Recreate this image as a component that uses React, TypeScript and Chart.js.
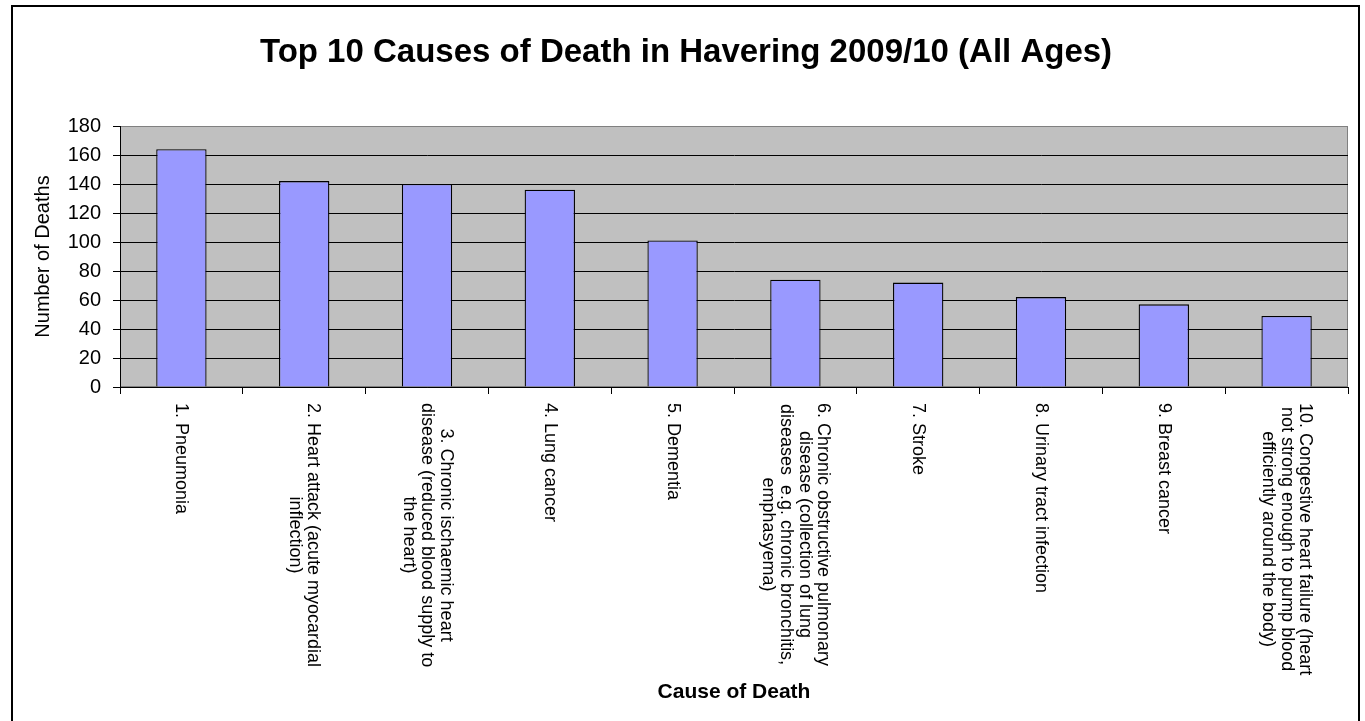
import React, { useEffect, useRef } from "react";
import { Chart, registerables } from "chart.js";

Chart.register(...registerables);

const chartTitle = "Top 10 Causes of Death in Havering 2009/10 (All Ages)";
const yAxisTitle = "Number of Deaths";
const xAxisTitle = "Cause of Death";

const categories: string[][] = [
  ["1. Pneumonia"],
  ["2. Heart attack (acute myocardial", "inflection)"],
  ["3. Chronic ischaemic heart", "disease (reduced blood supply to", "the heart)"],
  ["4. Lung cancer"],
  ["5. Dementia"],
  ["6. Chronic obstructive pulmonary", "disease (collection of lung", "diseases  e.g. chronic bronchitis,", "emphasyema)"],
  ["7. Stroke"],
  ["8. Urinary tract infection"],
  ["9. Breast cancer"],
  ["10. Congestive heart failure (heart", "not strong enough to pump blood", "efficiently around the body)"],
];

const deaths: number[] = [164, 142, 140, 136, 101, 74, 72, 62, 57, 49];

const yMin = 0;
const yMax = 180;
const yStep = 20;

const FONT = '"Liberation Sans", Arial, Helvetica, sans-serif';

const W = 1365;
const H = 721;

const decorPlugin = {
  id: "decor",
  beforeDraw(chart: any) {
    const { ctx, chartArea } = chart;
    const { left, top, right, bottom } = chartArea;
    ctx.save();
    ctx.fillStyle = "#C0C0C0";
    ctx.fillRect(left, top, right - left, bottom - top);
    ctx.strokeStyle = "#808080";
    ctx.lineWidth = 1;
    ctx.strokeRect(left + 0.5, top + 0.5, right - left - 1, bottom - top - 1);
    ctx.restore();
  },
  afterDraw(chart: any) {
    const { ctx, chartArea } = chart;
    const xScale = chart.scales.x;
    ctx.save();
    // outer frame
    ctx.strokeStyle = "#000";
    ctx.lineWidth = 2;
    ctx.strokeRect(12, 6, 1347, 740);

    // main title
    ctx.fillStyle = "#000";
    ctx.font = `bold 33px ${FONT}`;
    ctx.textAlign = "center";
    ctx.textBaseline = "alphabetic";
    ctx.fillText(chartTitle, 686, 62);

    // x axis title
    ctx.font = `bold 21px ${FONT}`;
    ctx.fillText(xAxisTitle, (chartArea.left + chartArea.right) / 2, 698);

    // y axis title
    ctx.save();
    ctx.font = `20px ${FONT}`;
    ctx.translate(43, (chartArea.top + chartArea.bottom) / 2);
    ctx.rotate(-Math.PI / 2);
    ctx.textBaseline = "middle";
    ctx.fillText(yAxisTitle, 0, 0);
    ctx.restore();

    // category labels rotated clockwise
    ctx.font = `18px ${FONT}`;
    const lh = 18.5;
    categories.forEach((lines, i) => {
      const cx = xScale.getPixelForValue(i);
      let maxW = 0;
      lines.forEach((l) => {
        maxW = Math.max(maxW, ctx.measureText(l).width);
      });
      const y0 = chartArea.bottom + 16;
      ctx.save();
      ctx.translate(cx, y0 + maxW / 2);
      ctx.rotate(Math.PI / 2);
      ctx.textAlign = "center";
      ctx.textBaseline = "middle";
      const n = lines.length;
      lines.forEach((l, k) => {
        ctx.fillText(l, 0, (k - (n - 1) / 2) * lh);
      });
      ctx.restore();
    });
    ctx.restore();
  },
};

export default function App() {
  const ref = useRef<HTMLCanvasElement | null>(null);
  useEffect(() => {
    if (!ref.current) return;
    const chart = new Chart(ref.current, {
      type: "bar",
      data: {
        labels: categories.map((c) => c.join(" ")),
        datasets: [
          {
            data: deaths,
            backgroundColor: "#9999FF",
            borderColor: "#000000",
            borderWidth: 1.3,
            barPercentage: 0.41,
            categoryPercentage: 1,
          },
        ],
      },
      options: {
        responsive: false,
        animation: false,
        devicePixelRatio: 1,
        layout: { padding: { left: 0, top: 126, right: W - 1348, bottom: H - 387 - 7 } },
        plugins: {
          legend: { display: false },
          title: { display: false },
          tooltip: { enabled: false },
        },
        scales: {
          x: {
            type: "category",
            offset: true,
            grid: {
              display: true,
              offset: true,
              drawOnChartArea: false,
              drawTicks: true,
              tickLength: 7,
              color: "#000",
              tickColor: "#000",
            },
            border: { display: true, color: "#000", width: 1 },
            ticks: { display: false },
            afterFit: (s: any) => {
              s.height = 7;
            },
          },
          y: {
            min: yMin,
            max: yMax,
            ticks: {
              stepSize: yStep,
              color: "#000",
              padding: 12,
              font: { family: FONT, size: 20 },
            },
            grid: {
              color: (c: any) => (c.tick && c.tick.value === yMax ? "#808080" : "#000"),
              tickColor: "#000",
              tickLength: 7,
              lineWidth: 1,
            },
            border: { display: true, color: "#000", width: 1 },
            afterFit: (s: any) => {
              s.width = 120;
            },
          },
        },
      },
      plugins: [decorPlugin],
    } as any);
    return () => chart.destroy();
  }, []);
  return (
    <div style={{ position: "absolute", left: 0, top: 0, width: W, height: H }}>
      <canvas ref={ref} width={W} height={H} style={{ width: W, height: H, display: "block" }} />
    </div>
  );
}
